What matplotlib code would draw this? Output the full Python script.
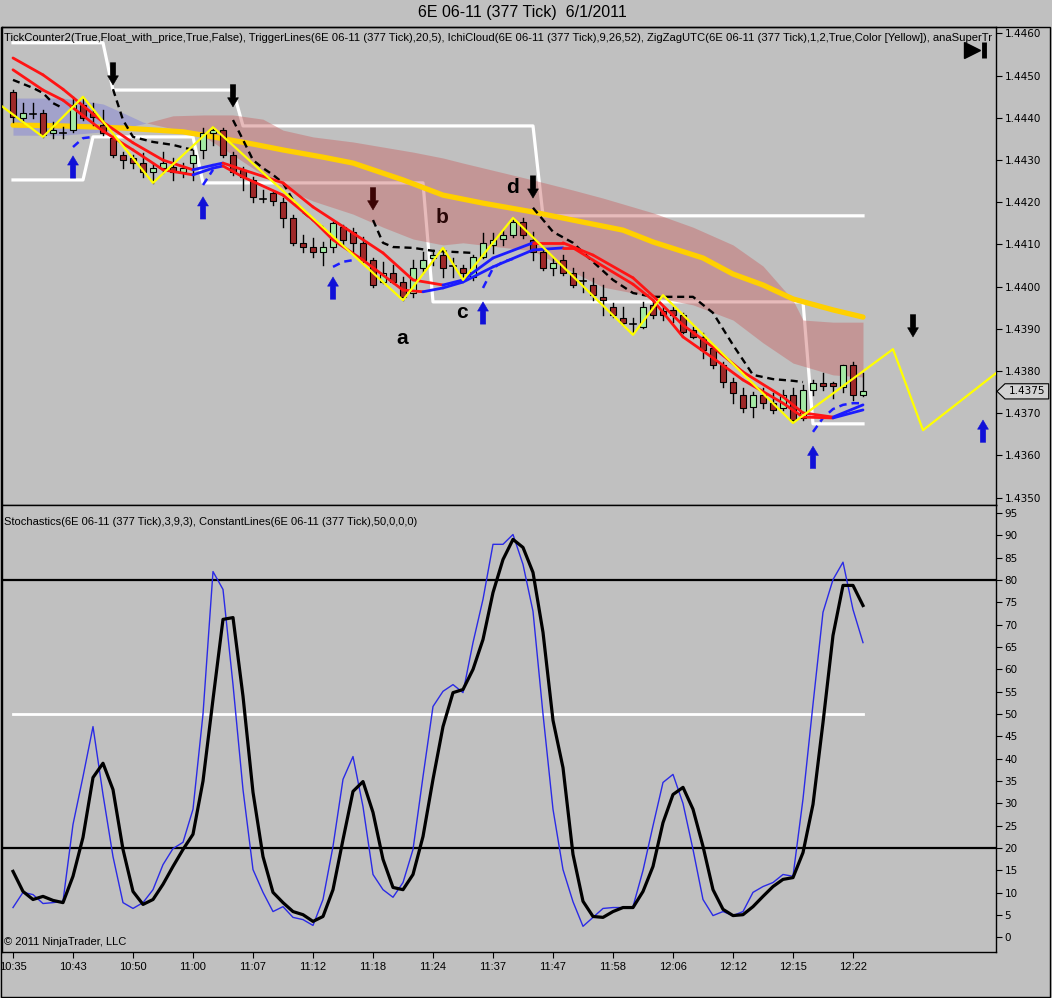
import matplotlib
matplotlib.use("Agg")
import matplotlib.pyplot as plt
import matplotlib.transforms as mtransforms
from matplotlib.patches import Rectangle, Polygon
from matplotlib.collections import LineCollection
from matplotlib.ticker import FormatStrFormatter
import numpy as np

plt.rcParams['font.family'] = ['Liberation Sans', 'DejaVu Sans']

BG = '#c0c0c0'

# ---- 377 tick bars, 6E 06-11 ----
opens = [1.44461, 1.44400, 1.44412, 1.44412, 1.44364, 1.44367, 1.44371, 1.44431, 1.44412, 1.44383,
         1.44352, 1.44312, 1.44305, 1.44293, 1.44272, 1.44281, 1.44284, 1.44272, 1.44293, 1.44324,
         1.44364, 1.44371, 1.44312, 1.44277, 1.44253, 1.44210, 1.44222, 1.44201, 1.44163, 1.44104,
         1.44094, 1.44082, 1.44094, 1.44141, 1.44130, 1.44104, 1.44063, 1.44011, 1.44032, 1.44011,
         1.43985, 1.44044, 1.44068, 1.44075, 1.44051, 1.44044, 1.44023, 1.44070, 1.44099, 1.44113,
         1.44123, 1.44153, 1.44111, 1.44082, 1.44044, 1.44063, 1.44032, 1.44016, 1.44004, 1.43976,
         1.43952, 1.43926, 1.43914, 1.43904, 1.43957, 1.43942, 1.43945, 1.43933, 1.43897, 1.43881,
         1.43855, 1.43814, 1.43774, 1.43743, 1.43715, 1.43743, 1.43724, 1.43713, 1.43743, 1.43689,
         1.43755, 1.43772, 1.43772, 1.43762, 1.43814, 1.43743]
highs = [1.44466, 1.44435, 1.44435, 1.44419, 1.44390, 1.44378, 1.44450, 1.44450, 1.44435, 1.44419,
         1.44359, 1.44319, 1.44312, 1.44317, 1.44293, 1.44319, 1.44305, 1.44293, 1.44324, 1.44376,
         1.44378, 1.44376, 1.44319, 1.44284, 1.44260, 1.44229, 1.44224, 1.44210, 1.44170, 1.44123,
         1.44115, 1.44106, 1.44153, 1.44146, 1.44139, 1.44118, 1.44068, 1.44059, 1.44051, 1.44023,
         1.44063, 1.44082, 1.44087, 1.44092, 1.44068, 1.44051, 1.44075, 1.44127, 1.44127, 1.44134,
         1.44163, 1.44163, 1.44130, 1.44092, 1.44068, 1.44075, 1.44044, 1.44035, 1.44021, 1.44004,
         1.43961, 1.43952, 1.43926, 1.43964, 1.43968, 1.43952, 1.43952, 1.43938, 1.43904, 1.43890,
         1.43862, 1.43822, 1.43784, 1.43760, 1.43750, 1.43760, 1.43748, 1.43755, 1.43760, 1.43767,
         1.43779, 1.43795, 1.43774, 1.43814, 1.43822, 1.43795]
lows = [1.44390, 1.44390, 1.44400, 1.44355, 1.44352, 1.44352, 1.44367, 1.44395, 1.44383, 1.44359,
        1.44307, 1.44281, 1.44281, 1.44260, 1.44246, 1.44269, 1.44253, 1.44260, 1.44253, 1.44305,
        1.44336, 1.44307, 1.44265, 1.44229, 1.44201, 1.44201, 1.44194, 1.44141, 1.44099, 1.44082,
        1.44070, 1.44051, 1.44082, 1.44099, 1.44082, 1.44059, 1.43999, 1.44009, 1.44009, 1.43968,
        1.43976, 1.44032, 1.44051, 1.44023, 1.44023, 1.44021, 1.44016, 1.44068, 1.44080, 1.44099,
        1.44118, 1.44115, 1.44063, 1.44040, 1.44028, 1.44028, 1.43999, 1.43987, 1.43968, 1.43933,
        1.43928, 1.43909, 1.43893, 1.43902, 1.43926, 1.43921, 1.43916, 1.43890, 1.43879, 1.43831,
        1.43807, 1.43762, 1.43724, 1.43703, 1.43691, 1.43713, 1.43701, 1.43708, 1.43679, 1.43684,
        1.43743, 1.43755, 1.43736, 1.43750, 1.43732, 1.43740]
closes = [1.44402, 1.44412, 1.44410, 1.44359, 1.44371, 1.44364, 1.44431, 1.44400, 1.44402, 1.44364,
          1.44312, 1.44300, 1.44293, 1.44272, 1.44281, 1.44293, 1.44272, 1.44281, 1.44312, 1.44364,
          1.44371, 1.44312, 1.44272, 1.44260, 1.44213, 1.44209, 1.44203, 1.44163, 1.44104, 1.44094,
          1.44082, 1.44094, 1.44151, 1.44111, 1.44104, 1.44063, 1.44004, 1.44032, 1.44011, 1.43976,
          1.44044, 1.44063, 1.44075, 1.44044, 1.44050, 1.44032, 1.44070, 1.44104, 1.44111, 1.44123,
          1.44153, 1.44123, 1.44082, 1.44044, 1.44056, 1.44032, 1.44004, 1.44014, 1.43980, 1.43968,
          1.43933, 1.43914, 1.43912, 1.43952, 1.43933, 1.43933, 1.43933, 1.43893, 1.43881, 1.43850,
          1.43814, 1.43774, 1.43748, 1.43713, 1.43743, 1.43724, 1.43708, 1.43743, 1.43684, 1.43755,
          1.43772, 1.43765, 1.43765, 1.43814, 1.43743, 1.43752]

time_labels = ['10:35', '10:43', '10:50', '11:00', '11:07', '11:12', '11:18', '11:24',
               '11:37', '11:47', '11:58', '12:06', '12:12', '12:15', '12:22']
time_bars = list(range(0, 85, 6))

# two moving averages (red falling, blue rising)
ma1_bars = [0, 3, 5, 9, 12, 15, 18, 20, 21, 23, 27, 30, 34, 37, 40, 43, 45, 48, 52, 55,
            58, 62, 64, 67, 70, 73, 77, 79, 82, 85]
ma1_vals = [1.44542, 1.44502, 1.44468, 1.44390, 1.44341, 1.44300, 1.44277, 1.44288, 1.44293, 1.44277,
            1.44246, 1.44189, 1.44127, 1.44080, 1.44016, 1.44004, 1.44016, 1.44068, 1.44104, 1.44104,
            1.44075, 1.44021, 1.43978, 1.43909, 1.43857, 1.43798, 1.43739, 1.43701, 1.43691, 1.43720]
ma2_bars = [0, 3, 5, 9, 12, 15, 18, 20, 21, 23, 27, 30, 32, 35, 39, 41, 43, 45, 48, 52,
            55, 56, 58, 62, 64, 67, 70, 73, 77, 79, 82, 85]
ma2_vals = [1.44514, 1.44466, 1.44442, 1.44369, 1.44324, 1.44277, 1.44265, 1.44281, 1.44286, 1.44260,
            1.44217, 1.44158, 1.44111, 1.44063, 1.43992, 1.43988, 1.43997, 1.44011, 1.44047, 1.44087,
            1.44092, 1.44092, 1.44063, 1.44006, 1.43968, 1.43881, 1.43831, 1.43779, 1.43724, 1.43691,
            1.43689, 1.43708]

# slow average (thick yellow)
sma_bars = [0, 5, 11, 17, 20, 24, 27, 31, 34, 39, 43, 47, 52, 57, 61, 64, 69, 72, 75, 78, 82, 85]
sma_vals = [1.44383, 1.44381, 1.44376, 1.44367, 1.44355, 1.44338, 1.44324, 1.44307, 1.44293, 1.44253,
            1.44217, 1.44198, 1.44177, 1.44153, 1.44134, 1.44106, 1.44068, 1.44030, 1.44004, 1.43971,
            1.43945, 1.43928]

# ichimoku cloud
cloud_bars = [0, 5, 9, 11, 13, 16, 19, 22, 25, 27, 30, 34, 37, 40, 43, 45, 52, 56, 59, 64,
              68, 72, 75, 78, 79, 82, 85]
span_a = [1.44447, 1.44447, 1.44433, 1.44412, 1.44390, 1.44374, 1.44357, 1.44312, 1.44265, 1.44234,
          1.44203, 1.44172, 1.44141, 1.44113, 1.44099, 1.44104, 1.44085, 1.44035, 1.43999, 1.43976,
          1.43957, 1.43921, 1.43867, 1.43819, 1.43812, 1.43791, 1.43786]
span_b = [1.44359, 1.44359, 1.44367, 1.44376, 1.44386, 1.44405, 1.44407, 1.44407, 1.44397, 1.44371,
          1.44355, 1.44343, 1.44331, 1.44319, 1.44305, 1.44293, 1.44253, 1.44229, 1.44210, 1.44175,
          1.44141, 1.44099, 1.44049, 1.43968, 1.43921, 1.43916, 1.43916]

# white trigger lines
trig_up_bars = [0, 9, 10, 22, 23, 52, 53, 85]
trig_up_vals = [1.44578, 1.44578, 1.44466, 1.44466, 1.44381, 1.44381, 1.44168, 1.44168]
trig_lo_bars = [0, 7, 8, 18, 19, 41, 42, 79, 80, 85]
trig_lo_vals = [1.44253, 1.44253, 1.44355, 1.44355, 1.44246, 1.44246, 1.43964, 1.43964, 1.43675, 1.43675]

# black dashed stop line, pieces
stop_segments = [
    ([0, 2, 3, 4, 5], [1.44490, 1.44471, 1.44459, 1.44435, 1.44423]),
    ([10, 11, 12, 14, 16, 18], [1.44468, 1.44395, 1.44355, 1.44343, 1.44336, 1.44324]),
    ([22, 23, 24, 25, 26, 27, 28, 29, 30, 31],
     [1.44395, 1.44348, 1.44300, 1.44281, 1.44265, 1.44246, 1.44205, 1.44177, 1.44158, 1.44141]),
    ([36, 37, 38, 40, 42, 46], [1.44158, 1.44104, 1.44094, 1.44092, 1.44085, 1.44080]),
    ([52, 54, 56, 58, 60, 62, 64, 68, 70, 72, 74, 76, 78, 79],
     [1.44187, 1.44130, 1.44104, 1.44059, 1.44016, 1.43985, 1.43976, 1.43976, 1.43938, 1.43862,
      1.43791, 1.43781, 1.43777, 1.43774]),
]

# blue dashed supertrend pieces
super_segments = [
    ([6, 7, 8], [1.44331, 1.44352, 1.44355]),
    ([19, 20], [1.44241, 1.44277]),
    ([32, 33, 34], [1.44047, 1.44059, 1.44063]),
    ([47, 48, 49, 50], [1.43997, 1.44044, 1.44059, 1.44066]),
    ([80, 81, 82, 83, 84, 85], [1.43656, 1.43689, 1.43710, 1.43720, 1.43724, 1.43724]),
]

# zigzag
zz_bars = [-1.3, 3, 7, 14, 20, 39, 43, 45, 50, 62, 65, 78, 88, 91, 98.3]
zz_vals = [1.44431, 1.44355, 1.44450, 1.44246, 1.44378, 1.43968, 1.44092, 1.44016, 1.44163,
           1.43886, 1.43980, 1.43677, 1.43852, 1.43660, 1.43795]

# signal arrows
down_bars = [10, 22, 36, 52, 90]
down_tips = [1.44478, 1.44426, 1.44182, 1.44210, 1.43881]
up_bars = [6, 19, 32, 47, 80, 97]
up_tips = [1.44310, 1.44213, 1.44023, 1.43964, 1.43622, 1.43684]

# wave labels
wave_text = ['a', 'b', 'c', 'd']
wave_bars = [38.9, 42.9, 44.9, 49.9]
wave_vals = [1.43878, 1.44163, 1.43940, 1.44234]

# stochastics 3,9,3
stoch_k = [6.7, 10.1, 9.6, 7.6, 7.8, 8.1, 25.3, 36.0, 47.2, 32.0,
           18.1, 7.8, 6.5, 7.8, 10.7, 16.3, 19.9, 21.3, 28.7, 50.0,
           81.9, 77.9, 56.6, 33.1, 15.2, 10.1, 5.8, 6.9, 4.5, 4.0,
           2.7, 8.5, 20.4, 35.4, 40.5, 29.3, 14.1, 10.7, 9.0, 12.3,
           19.7, 36.0, 51.7, 55.1, 56.6, 54.8, 66.0, 75.7, 88.0, 88.0,
           90.2, 83.5, 73.0, 50.0, 28.7, 15.2, 8.0, 2.5, 4.5, 6.5,
           6.7, 6.7, 6.9, 15.0, 25.0, 34.7, 36.5, 30.0, 19.7, 8.5,
           4.9, 5.8, 4.9, 5.8, 10.1, 11.4, 12.3, 14.1, 13.7, 31.0,
           52.2, 72.8, 80.1, 84.0, 73.4, 66.0]
stoch_d = [14.8, 10.3, 8.5, 9.2, 8.3, 7.8, 13.7, 22.4, 35.8, 39.0,
           33.1, 19.7, 10.3, 7.4, 8.5, 11.9, 15.9, 19.7, 23.1, 35.0,
           53.3, 71.2, 71.6, 54.0, 32.5, 18.1, 10.1, 7.8, 5.8, 5.1,
           3.6, 4.7, 10.7, 21.9, 32.7, 34.9, 28.0, 17.5, 11.2, 10.7,
           14.1, 22.6, 35.4, 47.2, 54.8, 55.5, 60.0, 66.7, 77.2, 84.6,
           89.1, 87.3, 81.7, 68.3, 48.6, 38.0, 18.6, 8.1, 4.7, 4.5,
           5.8, 6.7, 6.7, 10.3, 15.9, 25.7, 32.0, 33.6, 28.7, 20.4,
           10.7, 6.3, 4.9, 5.1, 6.9, 9.2, 11.4, 13.0, 13.4, 19.0,
           29.8, 48.1, 67.6, 78.8, 78.8, 74.3]

# the panel header is cut off in the original at "anaSuperTr"
header1 = ("TickCounter2(True,Float_with_price,True,False), TriggerLines(6E 06-11 (377 Tick),20,5), "
           "IchiCloud(6E 06-11 (377 Tick),9,26,52), ZigZagUTC(6E 06-11 (377 Tick),1,2,True,Color [Yellow]), "
           "anaSuperTr")
header2 = "Stochastics(6E 06-11 (377 Tick),3,9,3), ConstantLines(6E 06-11 (377 Tick),50,0,0,0)"


def slope_line(ax, bars, vals):
    pts = np.column_stack([bars, vals])
    segs = np.stack([pts[:-1], pts[1:]], axis=1)
    cols = ['#1c1cff' if b > a else '#ff1414' for a, b in zip(vals[:-1], vals[1:])]
    ax.add_collection(LineCollection(segs, colors=cols, linewidths=2.0, zorder=6,
                                     capstyle='round'))


def arrow(ax, bar, tip, up, color):
    off = -16 if up else 16
    ax.annotate('', xy=(bar, tip), xytext=(0, off), textcoords='offset points',
                arrowprops=dict(arrowstyle='simple,head_length=0.55,head_width=0.65,tail_width=0.32',
                                fc=color, ec=color, lw=0.4, mutation_scale=12,
                                shrinkA=0, shrinkB=0),
                zorder=9)


W, H = 1052, 998
fig = plt.figure(figsize=(W / 100, H / 100), dpi=100, facecolor=BG)
ax1 = fig.add_axes([2 / W, (H - 505) / H, 994 / W, 478 / H], facecolor=BG)
ax2 = fig.add_axes([2 / W, (H - 952) / H, 994 / W, 447 / H], facecolor=BG)

# ---------- price panel ----------
ax1.plot(trig_up_bars, trig_up_vals, color='white', lw=2.3, zorder=1)
ax1.plot(trig_lo_bars, trig_lo_vals, color='white', lw=2.3, zorder=1)

a = np.array(span_a)
b = np.array(span_b)
ax1.fill_between(cloud_bars, a, b, where=a >= b, interpolate=True,
                 color='#6a6ae0', alpha=0.35, lw=0, zorder=2)
ax1.fill_between(cloud_bars, a, b, where=a <= b, interpolate=True,
                 color='#c85e5e', alpha=0.42, lw=0, zorder=2)

ax1.plot(sma_bars, sma_vals, color='#ffd000', lw=3.8, zorder=3, solid_capstyle='round')

for i, (o, h, l, c) in enumerate(zip(opens, highs, lows, closes)):
    ax1.plot([i, i], [l, h], color='black', lw=1, zorder=4)
    if abs(c - o) < 0.000035:
        ax1.plot([i - 0.3, i + 0.3], [c, c], color='black', lw=1.2, zorder=4.5)
    else:
        col = '#a4eaa4' if c > o else '#9e2a2a'
        ax1.add_patch(Rectangle((i - 0.3, min(o, c)), 0.6, abs(c - o), fc=col,
                                ec='black', lw=0.8, zorder=4.5))

for bars, vals in stop_segments:
    ax1.plot(bars, vals, color='black', lw=1.7, ls=(0, (3, 2)), zorder=5)
for bars, vals in super_segments:
    ax1.plot(bars, vals, color='#1c1cff', lw=1.8, ls=(0, (3, 2)), zorder=5)

slope_line(ax1, ma1_bars, ma1_vals)
slope_line(ax1, ma2_bars, ma2_vals)

ax1.plot(zz_bars, zz_vals, color='#ffff00', lw=1.6, zorder=7)

for bar, tip in zip(down_bars, down_tips):
    arrow(ax1, bar, tip, False, '#3c0505' if bar == 36 else 'black')
for bar, tip in zip(up_bars, up_tips):
    arrow(ax1, bar, tip, True, '#1010d8')

for t, bx, by in zip(wave_text, wave_bars, wave_vals):
    ax1.text(bx, by, t, fontsize=15, fontweight='bold', ha='center', va='center',
             color='#2a0808' if t == 'b' else 'black', zorder=10)

ax1.set_xlim(-1.1, 98.3)
ax1.set_ylim(1.434827, 1.446154)
ax1.yaxis.tick_right()
ax1.set_yticks(np.arange(1.4350, 1.44605, 0.001))
ax1.yaxis.set_major_formatter(FormatStrFormatter('%.4f'))
ax1.tick_params(axis='y', direction='out', length=4, pad=2, labelsize=7.5,
                labelfontfamily='DejaVu Sans')
ax1.tick_params(axis='x', bottom=False, labelbottom=False)

ax1.text(0.002, 0.988, header1, transform=ax1.transAxes, fontsize=8.1,
         ha='left', va='top', zorder=11)

# skip-to-end icon
ax1.plot([0.976], [0.952], marker='>', ms=12, color='black', transform=ax1.transAxes,
         clip_on=False, zorder=12)
ax1.plot([0.9875, 0.9875], [0.935, 0.969], color='black', lw=3.5, transform=ax1.transAxes,
         clip_on=False, zorder=12, solid_capstyle='butt')

# last price tag
last = closes[-1]
trans = mtransforms.blended_transform_factory(ax1.transAxes, ax1.transData)
hh = 0.00018
tag = Polygon([(1.001, last), (1.009, last + hh), (1.053, last + hh), (1.053, last - hh),
               (1.009, last - hh)], closed=True, fc='#d2d2d2', ec='black', lw=0.8,
              transform=trans, clip_on=False, zorder=12)
ax1.add_patch(tag)
ax1.text(1.031, last, '%.4f' % last, transform=trans, fontsize=7.5, ha='center',
         va='center', family='DejaVu Sans', clip_on=False, zorder=13)

# ---------- stochastics panel ----------
bar_idx = np.arange(len(stoch_k))
ax2.axhline(80, color='black', lw=1.6, zorder=1)
ax2.axhline(20, color='black', lw=1.6, zorder=1)
ax2.plot([0, len(stoch_k) - 1], [50, 50], color='white', lw=2, zorder=1)
ax2.plot(bar_idx, stoch_k, color='#2a2ae6', lw=1.0, zorder=2)
ax2.plot(bar_idx, stoch_d, color='black', lw=2.3, zorder=3)

ax2.set_xlim(-1.1, 98.3)
ax2.set_ylim(-3.25, 96.8)
ax2.yaxis.tick_right()
ax2.set_yticks(np.arange(0, 100, 5))
ax2.tick_params(axis='y', direction='out', length=4, pad=2, labelsize=7.5,
                labelfontfamily='DejaVu Sans')
ax2.set_xticks(time_bars)
ax2.set_xticklabels(time_labels)
ax2.tick_params(axis='x', direction='out', length=4, pad=3, labelsize=8)

ax2.text(0.002, 0.973, header2, transform=ax2.transAxes, fontsize=8, ha='left', va='top')
ax2.text(0.002, 0.012, '\u00a9 2011 NinjaTrader, LLC', transform=ax2.transAxes,
         fontsize=8, ha='left', va='bottom')

for ax in (ax1, ax2):
    for s in ax.spines.values():
        s.set_color('black')
        s.set_linewidth(1)

fig.text(522 / W, 1 - 13 / H, '6E 06-11 (377 Tick)  6/1/2011', fontsize=11.5,
         ha='center', va='center')
fig.add_artist(Rectangle((0.0005, 0.001), 0.9975, 1 - 27 / H - 0.001, transform=fig.transFigure,
                         fill=False, ec='black', lw=1))

fig.savefig('out.png', dpi=100, facecolor=BG)
